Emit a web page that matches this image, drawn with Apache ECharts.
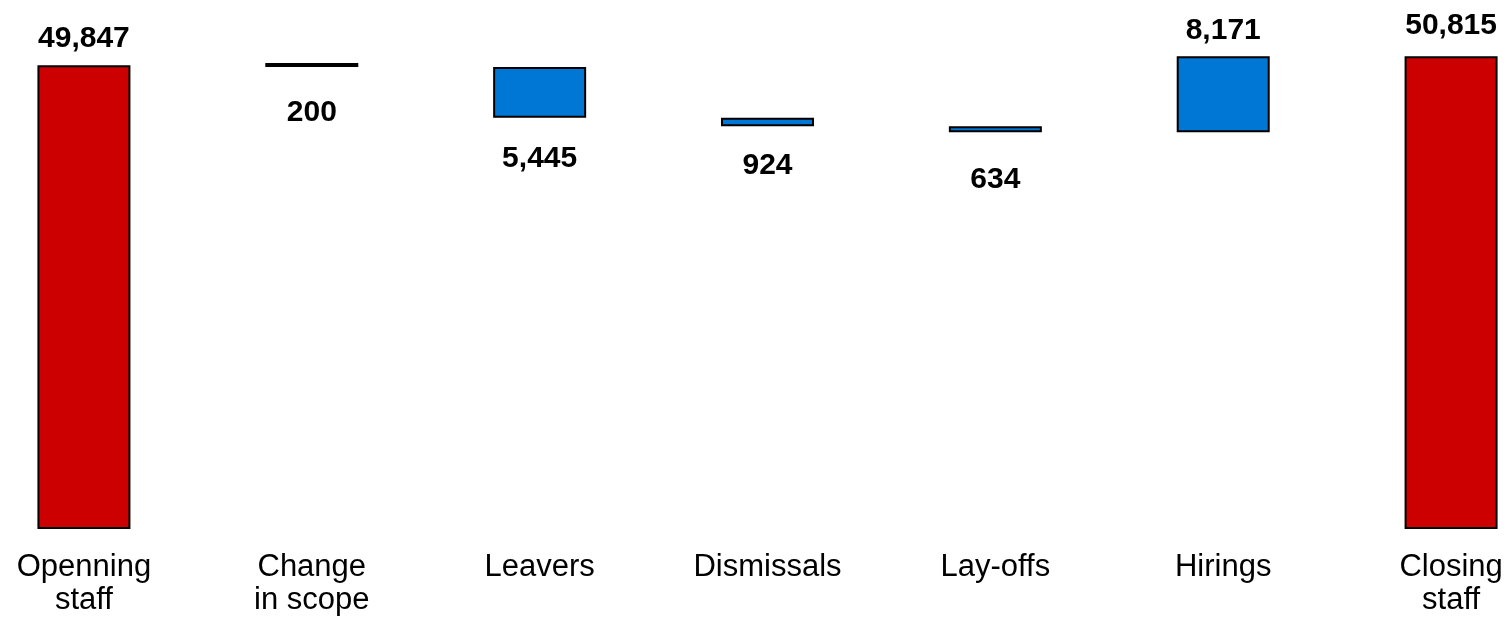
<!DOCTYPE html>
<html>
<head>
<meta charset="utf-8">
<script src="https://cdn.jsdelivr.net/npm/echarts@6/dist/echarts.min.js"></script>
<style>
  html, body { margin: 0; padding: 0; background: #fff; overflow: hidden; width: 1510px; height: 619px; }
  #chart { position: absolute; left: -30px; top: 0; width: 1595px; height: 619px; }
</style>
</head>
<body>
<div id="chart"></div>
<script>
// ---- data ----
const categories = ['Openning\nstaff', 'Change\nin scope', 'Leavers', 'Dismissals', 'Lay-offs', 'Hirings', 'Closing\nstaff'];
const values = [49847, 200, 5445, 924, 634, 8171, 50815];
const kinds = ['total', 'decrease', 'decrease', 'decrease', 'decrease', 'increase', 'total'];

// ---- layout / style ----
const labelGap = [12, 31, 26, 24, 32, 11, 16];
const FONT = "'Liberation Sans', Arial, Helvetica, sans-serif";
const RED = '#CC0000';
const BLUE = '#0077D5';

const bases = [];
let running = 0;
values.forEach((v, i) => {
  if (kinds[i] === 'total') { bases.push(0); running = v; }
  else if (kinds[i] === 'decrease') { running -= v; bases.push(running); }
  else { bases.push(running); running += v; }
});

const fmt = v => v.toLocaleString('en-US');

const visible = values.map((v, i) => ({
  value: v,
  itemStyle: { color: kinds[i] === 'total' ? RED : BLUE },
  label: {
    position: kinds[i] === 'decrease' ? 'bottom' : 'top',
    distance: labelGap[i]
  }
}));

const chart = echarts.init(document.getElementById('chart'), null, { renderer: 'canvas' });
chart.setOption({
  animation: false,
  backgroundColor: '#fff',
  grid: { left: 0, right: 0, top: 8, bottom: 90, containLabel: false },
  xAxis: {
    type: 'category',
    data: categories,
    axisLine: { show: false },
    axisTick: { show: false },
    axisLabel: {
      color: '#000',
      fontSize: 31,
      fontFamily: FONT,
      lineHeight: 33,
      margin: 22,
      interval: 0
    },
    splitLine: { show: false }
  },
  yAxis: {
    type: 'value',
    min: 0,
    max: 56000,
    show: false,
    splitLine: { show: false }
  },
  series: [
    {
      type: 'bar',
      stack: 'wf',
      data: bases,
      barWidth: 93,
      itemStyle: { color: 'transparent', borderWidth: 0 },
      emphasis: { disabled: true },
      silent: true
    },
    {
      type: 'bar',
      stack: 'wf',
      data: visible,
      barWidth: 93,
      barMinHeight: 4,
      itemStyle: { borderColor: '#000', borderWidth: 2 },
      label: {
        show: true,
        color: '#000',
        fontSize: 30,
        fontWeight: 'bold',
        fontFamily: FONT,
        formatter: p => fmt(p.value)
      }
    }
  ]
});
</script>
</body>
</html>
